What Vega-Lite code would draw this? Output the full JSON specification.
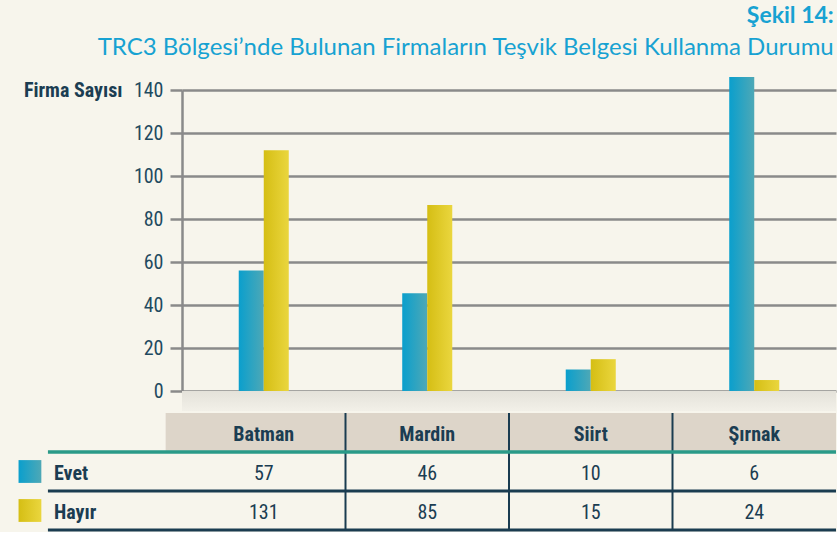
{
  "$schema": "https://vega.github.io/schema/vega-lite/v6.json",
  "background": "#f7f5ec",
  "padding": {"left": 18, "top": 5, "right": 0, "bottom": 0},
  "title": {
    "text": "Şekil 14:",
    "subtitle": "TRC3 Bölgesi’nde Bulunan Firmaların Teşvik Belgesi Kullanma Durumu",
    "anchor": "end",
    "frame": "bounds",
    "dx": -4,
    "font": "Lato",
    "fontSize": 23,
    "fontWeight": "bold",
    "color": "#17a2d2",
    "subtitleFont": "Lato",
    "subtitleFontSize": 24,
    "subtitleFontWeight": "normal",
    "subtitleColor": "#17a2d2",
    "subtitlePadding": 8,
    "offset": 17
  },
  "datasets": {
    "firms": [
      {"region": "Batman", "series": "Evet", "value": 56, "tableValue": 57},
      {"region": "Batman", "series": "Hayır", "value": 112, "tableValue": 131},
      {"region": "Mardin", "series": "Evet", "value": 45.5, "tableValue": 46},
      {"region": "Mardin", "series": "Hayır", "value": 86.5, "tableValue": 85},
      {"region": "Siirt", "series": "Evet", "value": 10, "tableValue": 10},
      {"region": "Siirt", "series": "Hayır", "value": 14.8, "tableValue": 15},
      {"region": "Şırnak", "series": "Evet", "value": 146, "tableValue": 6},
      {"region": "Şırnak", "series": "Hayır", "value": 5.1, "tableValue": 24}
    ]
  },
  "spacing": 22,
  "bounds": "flush",
  "vconcat": [
    {
      "width": 654,
      "height": 301,
      "data": {"name": "firms"},
      "layer": [
        {
          "transform": [{"filter": "datum.region === 'Batman' && datum.series === 'Evet'"}],
          "mark": {"type": "rect", "fill": {"gradient": "linear", "x1": 0, "y1": 0, "x2": 0, "y2": 1, "stops": [{"offset": 0, "color": "#e4e2da"}, {"offset": 1, "color": "#f2f0e8"}]}},
          "encoding": {
            "y": {"datum": 0, "type": "quantitative", "scale": {"domain": [0, 140], "nice": false}},
            "y2": {"datum": -9.3}
          }
        },
        {
          "mark": {"type": "bar"},
          "encoding": {
            "x": {"field": "region", "type": "nominal", "sort": null,
                  "scale": {"domain": ["Batman", "Mardin", "Siirt", "Şırnak"], "paddingInner": 0.694, "paddingOuter": 0.347},
                  "axis": null},
            "xOffset": {"field": "series", "type": "nominal", "scale": {"domain": ["Evet", "Hayır"], "paddingInner": 0, "paddingOuter": 0}},
            "y": {"field": "value", "type": "quantitative",
                  "scale": {"domain": [0, 140], "nice": false},
                  "axis": {
                    "values": [0, 20, 40, 60, 80, 100, 120, 140],
                    "title": "Firma Sayısı",
                    "titleAngle": 0, "titleAlign": "right", "titleBaseline": "middle",
                    "titleX": -60, "titleY": 0,
                    "titleFont": "Liberation Sans Narrow, Roboto Condensed, DejaVu Sans Condensed, sans-serif",
                    "titleFontSize": 20, "titleFontWeight": "bold", "titleColor": "#1b3d52",
                    "labelFont": "Liberation Sans Narrow, Roboto Condensed, DejaVu Sans Condensed, sans-serif",
                    "labelFontSize": 20, "labelColor": "#1f4a60", "labelPadding": 7,
                    "tickSize": 12, "tickColor": "#8a8a8a", "tickWidth": 2.5,
                    "domainColor": "#8a8a8a", "domainWidth": 2.5,
                    "grid": true, "gridColor": "#8a8a8a", "gridWidth": 2.5, "gridOpacity": 1
                  }},
            "color": {
              "condition": {"test": "datum.series === 'Evet'",
                "value": {"gradient": "linear", "x1": 0, "y1": 0, "x2": 1, "y2": 0, "stops": [{"offset": 0, "color": "#0a9fcd"}, {"offset": 1, "color": "#4ea8b6"}]}},
              "value": {"gradient": "linear", "x1": 0, "y1": 0, "x2": 1, "y2": 0, "stops": [{"offset": 0, "color": "#d5be14"}, {"offset": 1, "color": "#ead63e"}]}
            }
          }
        }
      ]
    },
    {
      "width": 654,
      "height": 117,
      "data": {"name": "firms"},
      "resolve": {"scale": {"x": "independent"}},
      "layer": [
        {
          "transform": [{"filter": "datum.region === 'Batman' && datum.series === 'Evet'"}],
          "mark": {"type": "rect", "color": "#ddd5c9"},
          "encoding": {
            "x": {"datum": -0.1, "type": "quantitative", "scale": {"domain": [0, 4], "nice": false, "zero": false}, "axis": null},
            "x2": {"datum": 4},
            "y": {"datum": "header", "type": "nominal", "scale": {"domain": ["header", "Evet", "Hayır"], "paddingInner": 0, "paddingOuter": 0}, "axis": null}
          }
        },
        {
          "transform": [{"filter": "datum.series === 'Evet' && datum.region !== 'Batman'"}],
          "mark": {"type": "rule", "color": "#1a3c50", "strokeWidth": 2},
          "encoding": {
            "x": {"field": "region", "type": "nominal", "bandPosition": 0,
                  "scale": {"type": "band", "domain": ["Batman", "Mardin", "Siirt", "Şırnak"], "paddingInner": 0, "paddingOuter": 0}, "axis": null}
          }
        },
        {
          "transform": [{"filter": "datum.region === 'Batman' && datum.series === 'Evet'"}],
          "mark": {"type": "rule", "color": "#2a9a88", "strokeWidth": 3.5},
          "encoding": {
            "x": {"datum": -0.82, "type": "quantitative", "scale": {"domain": [0, 4], "nice": false, "zero": false}, "axis": null},
            "x2": {"datum": 4},
            "y": {"datum": "Evet", "type": "nominal", "bandPosition": 0, "scale": {"domain": ["header", "Evet", "Hayır"], "paddingInner": 0, "paddingOuter": 0}, "axis": null}
          }
        },
        {
          "transform": [{"filter": "datum.region === 'Batman' && datum.series === 'Evet'"}],
          "mark": {"type": "rule", "color": "#1a3c50", "strokeWidth": 3},
          "encoding": {
            "x": {"datum": -0.82, "type": "quantitative", "scale": {"domain": [0, 4], "nice": false, "zero": false}, "axis": null},
            "x2": {"datum": 4},
            "y": {"datum": "Hayır", "type": "nominal", "bandPosition": 0, "scale": {"domain": ["header", "Evet", "Hayır"], "paddingInner": 0, "paddingOuter": 0}, "axis": null}
          }
        },
        {
          "transform": [{"filter": "datum.region === 'Batman' && datum.series === 'Evet'"}],
          "mark": {"type": "rule", "color": "#1a3c50", "strokeWidth": 3},
          "encoding": {
            "x": {"datum": -0.82, "type": "quantitative", "scale": {"domain": [0, 4], "nice": false, "zero": false}, "axis": null},
            "x2": {"datum": 4},
            "y": {"datum": "Hayır", "type": "nominal", "bandPosition": 1, "scale": {"domain": ["header", "Evet", "Hayır"], "paddingInner": 0, "paddingOuter": 0}, "axis": null}
          }
        },
        {
          "transform": [{"filter": "datum.series === 'Evet'"}],
          "mark": {"type": "text", "font": "Liberation Sans Narrow, Roboto Condensed, DejaVu Sans Condensed, sans-serif", "fontSize": 20, "fontWeight": "bold", "color": "#1b3d52", "baseline": "middle", "dy": 2},
          "encoding": {
            "x": {"field": "region", "type": "nominal", "scale": {"type": "band", "domain": ["Batman", "Mardin", "Siirt", "Şırnak"], "paddingInner": 0, "paddingOuter": 0}, "axis": null},
            "y": {"datum": "header", "type": "nominal", "scale": {"domain": ["header", "Evet", "Hayır"], "paddingInner": 0, "paddingOuter": 0}, "axis": null},
            "text": {"field": "region"}
          }
        },
        {
          "mark": {"type": "text", "font": "Liberation Sans Narrow, Roboto Condensed, DejaVu Sans Condensed, sans-serif", "fontSize": 20, "color": "#1b3d52", "baseline": "middle", "dy": 2},
          "encoding": {
            "x": {"field": "region", "type": "nominal", "scale": {"type": "band", "domain": ["Batman", "Mardin", "Siirt", "Şırnak"], "paddingInner": 0, "paddingOuter": 0}, "axis": null},
            "y": {"field": "series", "type": "nominal", "scale": {"domain": ["header", "Evet", "Hayır"], "paddingInner": 0, "paddingOuter": 0}, "axis": null},
            "text": {"field": "tableValue"}
          }
        },
        {
          "transform": [{"aggregate": [{"op": "sum", "field": "tableValue", "as": "total"}], "groupby": ["series"]}],
          "mark": {"type": "point", "shape": "square", "size": 520, "filled": true, "opacity": 1, "strokeWidth": 0},
          "encoding": {
            "x": {"datum": -0.93, "type": "quantitative", "scale": {"domain": [0, 4], "nice": false, "zero": false}, "axis": null},
            "y": {"field": "series", "type": "nominal", "scale": {"domain": ["header", "Evet", "Hayır"], "paddingInner": 0, "paddingOuter": 0}, "axis": null},
            "color": {
              "condition": {"test": "datum.series === 'Evet'",
                "value": {"gradient": "linear", "x1": 0, "y1": 0, "x2": 1, "y2": 0, "stops": [{"offset": 0, "color": "#0a9fcd"}, {"offset": 1, "color": "#4ea8b6"}]}},
              "value": {"gradient": "linear", "x1": 0, "y1": 0, "x2": 1, "y2": 0, "stops": [{"offset": 0, "color": "#d5be14"}, {"offset": 1, "color": "#ead63e"}]}
            }
          }
        },
        {
          "transform": [{"aggregate": [{"op": "sum", "field": "tableValue", "as": "total"}], "groupby": ["series"]}],
          "mark": {"type": "text", "font": "Liberation Sans Narrow, Roboto Condensed, DejaVu Sans Condensed, sans-serif", "fontSize": 20, "fontWeight": "bold", "color": "#1b3d52", "align": "left", "baseline": "middle", "dy": 2},
          "encoding": {
            "x": {"datum": -0.783, "type": "quantitative", "scale": {"domain": [0, 4], "nice": false, "zero": false}, "axis": null},
            "y": {"field": "series", "type": "nominal", "scale": {"domain": ["header", "Evet", "Hayır"], "paddingInner": 0, "paddingOuter": 0}, "axis": null},
            "text": {"field": "series"}
          }
        }
      ]
    }
  ],
  "config": {"view": {"stroke": null}}
}
